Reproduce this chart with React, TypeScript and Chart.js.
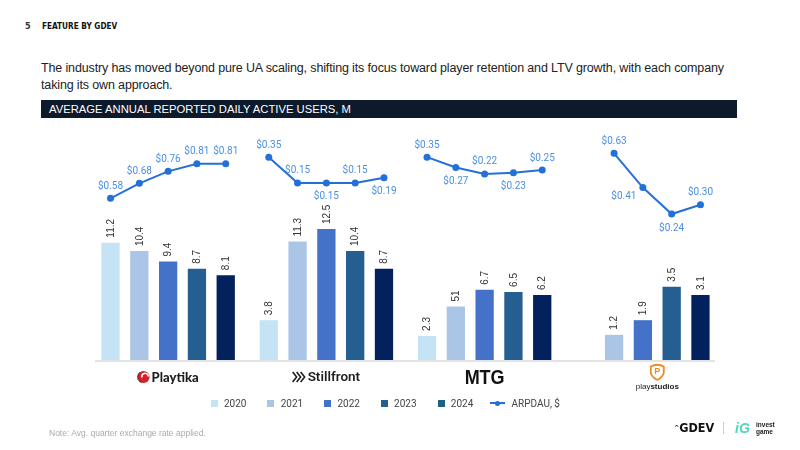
import React, { useEffect, useRef } from "react";
import { Chart, registerables } from "chart.js";

Chart.register(...registerables);

// ---------- DATA ----------
const companies = ["Playtika", "Stillfront", "MTG", "playstudios"];
const years = ["2020", "2021", "2022", "2023", "2024"];

// Average annual reported DAU, M (per company, in the order of `companies`)
const dau2020: (number | null)[] = [11.2, 3.8, 2.3, null];
const dau2021: (number | null)[] = [10.4, 11.3, 5.1, 1.2];
const dau2022: (number | null)[] = [9.4, 12.5, 6.7, 1.9];
const dau2023: (number | null)[] = [8.7, 10.4, 6.5, 3.5];
const dau2024: (number | null)[] = [8.1, 8.7, 6.2, 3.1];

// ARPDAU, $ (per year 2020..2024)
const arpdauPlaytika: (number | null)[] = [0.58, 0.68, 0.76, 0.81, 0.81];
const arpdauStillfront: (number | null)[] = [0.35, 0.15, 0.15, 0.15, 0.19];
const arpdauMTG: (number | null)[] = [0.35, 0.27, 0.22, 0.23, 0.25];
const arpdauPlaystudios: (number | null)[] = [null, 0.63, 0.41, 0.24, 0.3];

// value label printed as in the source
const valueLabelOverrides: Record<string, string> = { "MTG|2021": "51" };

// ---------- STYLE ----------
const barColors = ["#c4e4f5", "#abc5e6", "#4472c8", "#255e91", "#03215c"];
const legendColors = ["#c4e4f5", "#abc5e6", "#4472c8", "#255e91", "#1d627f"];
const lineColor = "#2370d8";
const lineLabelColor = "#4a90e2";
const CATEGORY_PCT = 0.91;
const BAR_PCT = 0.635;
// company drawn on its own (doubled) bar scale in the source
const SEPARATE_SCALE_COMPANY = "playstudios";
// ARPDAU mini-scales per company
const arpdauAxis = ["yA", "yB", "yB", "yC"];
// label placements for ARPDAU points: a = above, b = below, bl = below-left
const arpdauPlacement = [
  ["a", "a", "a", "a", "a"],
  ["a", "a", "b", "a", "b"],
  ["a", "b", "a", "b", "a"],
  ["a", "a", "bl", "b", "a"],
];

const dauSeries = [dau2020, dau2021, dau2022, dau2023, dau2024];
const arpdauSeries = [arpdauPlaytika, arpdauStillfront, arpdauMTG, arpdauPlaystudios];
const sepIdx = companies.indexOf(SEPARATE_SCALE_COMPANY);

const barDatasets: any[] = [];
[false, true].forEach((separate) => {
  dauSeries.forEach((arr, yi) => {
    barDatasets.push({
      type: "bar",
      label: years[yi],
      data: arr.map((v, ci) => ({ x: ci, y: (ci === sepIdx) === separate ? v : null })),
      backgroundColor: barColors[yi],
      stack: "s" + years[yi],
      yAxisID: separate ? "y2" : "y",
      xAxisID: "x",
      categoryPercentage: CATEGORY_PCT,
      barPercentage: BAR_PCT,
      order: 2,
    });
  });
});

const slot = CATEGORY_PCT / years.length;
const lineDatasets = arpdauSeries.map((arr, ci) => ({
  type: "line",
  label: "ARPDAU, $",
  company: ci,
  data: arr
    .map((v, yi) => (v == null ? null : { x: ci + (yi - (years.length - 1) / 2) * slot, y: v, yi }))
    .filter((p) => p !== null),
  borderColor: lineColor,
  backgroundColor: lineColor,
  borderWidth: 2,
  pointRadius: 3.5,
  pointBorderWidth: 0,
  pointBackgroundColor: lineColor,
  xAxisID: "x",
  yAxisID: arpdauAxis[ci],
  order: 1,
}));

const barLabelPlugin = {
  id: "barLabels",
  afterDatasetsDraw(chart: any) {
    const ctx = chart.ctx;
    chart.data.datasets.forEach((ds: any, di: number) => {
      if (ds.type !== "bar") return;
      const meta = chart.getDatasetMeta(di);
      meta.data.forEach((el: any, i: number) => {
        const v = ds.data[i].y;
        if (v == null) return;
        const key = companies[i] + "|" + ds.label;
        const text = valueLabelOverrides[key] ?? String(v);
        ctx.save();
        ctx.translate(el.x + 0.5, el.y - 5);
        ctx.rotate(-Math.PI / 2);
        ctx.font = '10px "Liberation Sans", Arial, sans-serif';
        ctx.fillStyle = "#333";
        ctx.textAlign = "left";
        ctx.textBaseline = "middle";
        ctx.fillText(text, 0, 0);
        ctx.restore();
      });
    });
  },
};

const lineLabelPlugin = {
  id: "lineLabels",
  afterDatasetsDraw(chart: any) {
    const ctx = chart.ctx;
    chart.data.datasets.forEach((ds: any, di: number) => {
      if (ds.type !== "line") return;
      const meta = chart.getDatasetMeta(di);
      meta.data.forEach((el: any, i: number) => {
        const p = ds.data[i];
        const place = arpdauPlacement[ds.company][p.yi];
        let dx = 0, dy = -12;
        if (place === "b") dy = 14;
        if (place === "bl") { dx = -19; dy = 9; }
        ctx.save();
        ctx.font = '10px Roboto, sans-serif';
        ctx.fillStyle = lineLabelColor;
        ctx.textAlign = "center";
        ctx.textBaseline = "middle";
        ctx.fillText("$" + p.y.toFixed(2), el.x + dx, el.y + dy);
        ctx.restore();
      });
    });
  },
};

function drawLogo(ctx: CanvasRenderingContext2D, name: string, cx: number, cy: number) {
  ctx.save();
  ctx.textBaseline = "middle";
  ctx.textAlign = "left";
  if (name === "Playtika") {
    ctx.font = '900 13px Lato, "Open Sans", sans-serif';
    const tw = ctx.measureText(name).width;
    const total = 12 + 2 + tw;
    const x0 = cx - total / 2;
    ctx.fillStyle = "#d3202a";
    ctx.beginPath();
    ctx.arc(x0 + 6, cy, 6, 0, Math.PI * 2);
    ctx.fill();
    ctx.strokeStyle = "#fff";
    ctx.lineWidth = 1.6;
    ctx.beginPath();
    ctx.arc(x0 + 7.5, cy - 0.5, 3.2, Math.PI * 0.9, Math.PI * 2.0);
    ctx.stroke();
    ctx.strokeStyle = "#222";
    ctx.lineWidth = 0.8;
    ctx.beginPath();
    ctx.arc(x0 + 6, cy, 6, Math.PI * 0.6, Math.PI * 1.3);
    ctx.stroke();
    ctx.fillStyle = "#1e1e1e";
    ctx.fillText(name, x0 + 14, cy + 0.5);
  } else if (name === "Stillfront") {
    ctx.font = '600 13.5px Roboto, sans-serif';
    const tw = ctx.measureText(name).width;
    const total = 13 + 2 + tw;
    const x0 = cx - total / 2;
    ctx.strokeStyle = "#1e1e1e";
    ctx.lineWidth = 1.6;
    for (let k = 0; k < 3; k++) {
      ctx.beginPath();
      ctx.moveTo(x0 + k * 4, cy - 5);
      ctx.lineTo(x0 + k * 4 + 4, cy);
      ctx.lineTo(x0 + k * 4, cy + 5);
      ctx.stroke();
    }
    ctx.fillStyle = "#1e1e1e";
    ctx.fillText(name, x0 + 15, cy + 0.5);
  } else if (name === "MTG") {
    ctx.font = '900 20px "Liberation Sans", Arial, sans-serif';
    ctx.textAlign = "center";
    ctx.fillStyle = "#111";
    ctx.save();
    ctx.translate(cx, cy + 1);
    ctx.scale(0.9, 1);
    ctx.fillText(name, 0, 0);
    ctx.restore();
  } else {
    // playstudios shield
    const top = cy - 13;
    ctx.strokeStyle = "#f08a24";
    ctx.lineWidth = 1.8;
    ctx.beginPath();
    ctx.moveTo(cx - 6.5, top + 2.5);
    ctx.quadraticCurveTo(cx, top - 1, cx + 6.5, top + 2.5);
    ctx.lineTo(cx + 6.5, top + 9);
    ctx.quadraticCurveTo(cx + 5.5, top + 13, cx, top + 16);
    ctx.quadraticCurveTo(cx - 5.5, top + 13, cx - 6.5, top + 9);
    ctx.closePath();
    ctx.stroke();
    ctx.fillStyle = "#f08a24";
    ctx.font = 'bold 9px "Liberation Sans", Arial, sans-serif';
    ctx.textAlign = "center";
    ctx.fillText("P", cx, top + 7.5);
    ctx.textAlign = "left";
    ctx.font = '8px "Liberation Sans", Arial, sans-serif';
    const w1 = ctx.measureText("play").width;
    ctx.font = 'bold 8px "Liberation Sans", Arial, sans-serif';
    const w2 = ctx.measureText("studios").width;
    const x0 = cx - (w1 + w2) / 2;
    ctx.fillStyle = "#222";
    ctx.font = '8px "Liberation Sans", Arial, sans-serif';
    ctx.fillText("play", x0, cy + 10);
    ctx.font = 'bold 8px "Liberation Sans", Arial, sans-serif';
    ctx.fillText("studios", x0 + w1, cy + 10);
  }
  ctx.restore();
}

const logoPlugin = {
  id: "logos",
  afterDraw(chart: any) {
    const ctx = chart.ctx;
    const area = chart.chartArea;
    // baseline
    ctx.save();
    ctx.strokeStyle = "#e4e4e4";
    ctx.lineWidth = 2;
    ctx.beginPath();
    ctx.moveTo(area.left + 6, area.bottom + 1);
    ctx.lineTo(area.right - 7, area.bottom + 1);
    ctx.stroke();
    ctx.restore();
    companies.forEach((name, ci) => {
      const xs: number[] = [];
      chart.data.datasets.forEach((ds: any, di: number) => {
        if (ds.type !== "bar" || ds.data[ci].y == null) return;
        xs.push(chart.getDatasetMeta(di).data[ci].x);
      });
      const cx = xs.length ? (Math.min(...xs) + Math.max(...xs)) / 2 : chart.scales.x.getPixelForValue(ci);
      drawLogo(ctx, name, cx, area.bottom + 17);
    });
  },
};

export default function App() {
  const ref = useRef<HTMLCanvasElement>(null);
  useEffect(() => {
    const chart = new Chart(ref.current as HTMLCanvasElement, {
      type: "bar",
      data: { datasets: [...barDatasets, ...lineDatasets] as any },
      options: {
        responsive: false,
        maintainAspectRatio: false,
        animation: false,
        layout: { padding: { left: 89, right: 78, top: 140, bottom: 90 } },
        plugins: { legend: { display: false }, tooltip: { enabled: false } },
        scales: {
          x: {
            type: "linear",
            min: -0.5,
            max: companies.length - 0.5,
            offset: false,
            display: false,
            grid: { display: false, offset: false },
            afterBuildTicks: (scale: any) => {
              scale.ticks = companies.map((_, i) => ({ value: i }));
            },
          },
          y: { type: "linear", min: 0, max: 21, display: false },
          y2: { type: "linear", min: 0, max: 10.5, display: false },
          yA: { type: "linear", min: -0.498, max: 0.969, display: false },
          yB: { type: "linear", min: -1.222, max: 0.483, display: false },
          yC: { type: "linear", min: -0.699, max: 0.716, display: false },
        },
      } as any,
      plugins: [barLabelPlugin, lineLabelPlugin, logoPlugin],
    });
    return () => chart.destroy();
  }, []);

  const legendFont = "Roboto, sans-serif";
  return (
    <div
      style={{
        position: "absolute",
        left: 0,
        top: 0,
        width: 800,
        height: 450,
        background: "#fff",
        overflow: "hidden",
        fontFamily: '"Liberation Sans", Arial, sans-serif',
      }}
    >
      <div style={{ position: "absolute", left: 25, top: 20, fontSize: 9, lineHeight: "12px", fontWeight: 700, color: "#333", fontFamily: '"DejaVu Sans Condensed", "DejaVu Sans", sans-serif' }}>5</div>
      <div style={{ position: "absolute", left: 41.5, top: 20, fontSize: 9.5, lineHeight: "12px", fontWeight: 700, color: "#111", fontFamily: '"DejaVu Sans Condensed", "DejaVu Sans", sans-serif', whiteSpace: "nowrap", transform: "scaleX(0.86)", transformOrigin: "left center" }}>FEATURE BY GDEV</div>
      <div style={{ position: "absolute", left: 41, top: 60, fontSize: 12.5, letterSpacing: "-0.14px", lineHeight: "17px", color: "#222", whiteSpace: "nowrap" }}>
        The industry has moved beyond pure UA scaling, shifting its focus toward player retention and LTV growth, with each company
        <br />
        taking its own approach.
      </div>
      <div style={{ position: "absolute", left: 41, top: 100, width: 696, height: 18, background: "#0c1a2b" }} />
      <div style={{ position: "absolute", left: 49, top: 100, fontSize: 11.25, lineHeight: "18px", color: "#fff", whiteSpace: "nowrap" }}>
        AVERAGE ANNUAL REPORTED DAILY ACTIVE USERS, M
      </div>

      <canvas ref={ref} width={800} height={450} style={{ position: "absolute", left: 0, top: 0, width: 800, height: 450 }} />

      {years.map((yr, i) => (
        <div key={yr} style={{ position: "absolute", left: 210.7 + i * 56.7, top: 396, height: 14, display: "flex", alignItems: "center" }}>
          <div style={{ width: 7, height: 7, background: legendColors[i] }} />
          <div style={{ marginLeft: 6.3, fontSize: 10, color: "#444", fontFamily: legendFont }}>{yr}</div>
        </div>
      ))}
      <div style={{ position: "absolute", left: 490, top: 396, height: 14, display: "flex", alignItems: "center" }}>
        <div style={{ position: "relative", width: 15, height: 7 }}>
          <div style={{ position: "absolute", left: 0, top: 2.5, width: 15, height: 1.6, background: lineColor }} />
          <div style={{ position: "absolute", left: 5, top: 1, width: 5, height: 5, borderRadius: "50%", background: lineColor }} />
        </div>
        <div style={{ marginLeft: 6.5, fontSize: 10, color: "#444", fontFamily: legendFont }}>ARPDAU, $</div>
      </div>

      <div style={{ position: "absolute", left: 49, top: 427, fontSize: 8.5, lineHeight: "12px", color: "#aaa", whiteSpace: "nowrap" }}>
        Note: Avg. quarter exchange rate applied.
      </div>

      <div style={{ position: "absolute", left: 674, top: 421, fontSize: 12.5, lineHeight: "14px", fontWeight: 700, color: "#111", fontFamily: '"DejaVu Sans Condensed", "DejaVu Sans", sans-serif', whiteSpace: "nowrap" }}>
        <span style={{ fontSize: 7, verticalAlign: "top" }}>^</span>GDEV
      </div>
      <div style={{ position: "absolute", left: 723, top: 422, width: 1, height: 12, background: "#ccc" }} />
      <div style={{ position: "absolute", left: 735, top: 420, fontSize: 14, lineHeight: "16px", fontWeight: 700, fontStyle: "italic", color: "#4fd6bd", whiteSpace: "nowrap" }}>iG</div>
      <div style={{ position: "absolute", left: 756, top: 422, fontSize: 6.5, lineHeight: "6.5px", fontWeight: 700, color: "#222" }}>
        invest
        <br />
        game
      </div>
    </div>
  );
}
